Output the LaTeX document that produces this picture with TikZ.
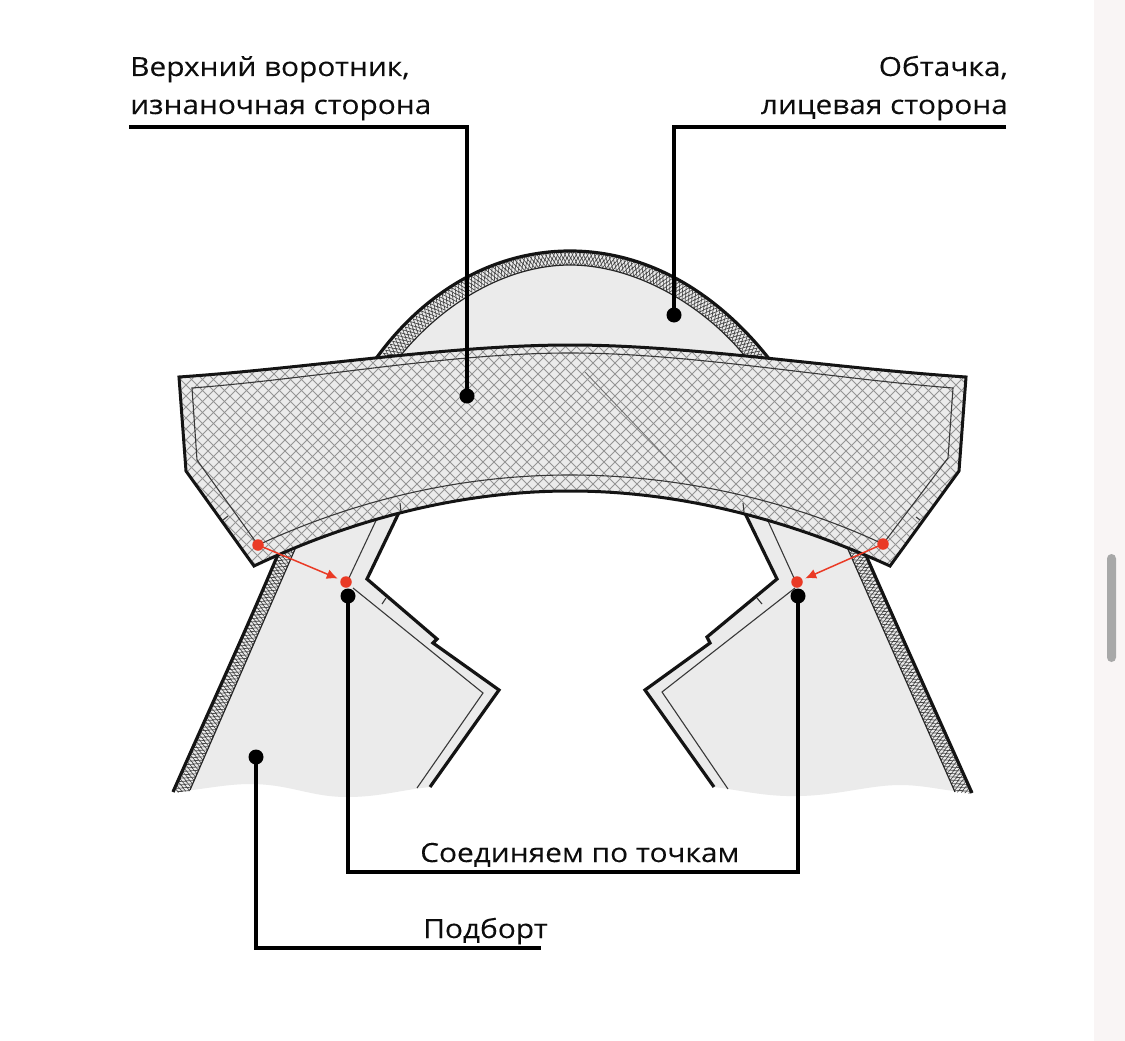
\documentclass[tikz,border=0pt]{standalone}
\usepackage{fontspec}
\setmainfont[FakeStretch=1.13,FakeBold=0.15]{Open Sans}
\usetikzlibrary{decorations.pathmorphing,arrows.meta}
\definecolor{cloth}{HTML}{EBEBEB}
\definecolor{redpt}{HTML}{EA3A25}
\definecolor{barbg}{HTML}{F9F5F5}
\definecolor{thumb}{HTML}{A8A8A8}
\tikzset{
  edgeline/.style={line width=3.2pt,black!92,line join=miter},
  seamline/.style={line width=1.1pt,black!78,line join=miter},
  hatchline/.style={line width=0.95pt,black!42},
  zzbase/.style={decorate,line width=0.65pt,black!72},
  zza/.style={zzbase,decoration={zigzag,segment length=7.4,amplitude=3.8,raise=3.4}},
  zzb/.style={zzbase,decoration={zigzag,segment length=7.4,amplitude=3.8,raise=-3.4}},
  zzc/.style={zzbase,decoration={zigzag,segment length=7.4,amplitude=3.8,raise=3.4,pre=lineto,pre length=3.7}},
  zzd/.style={zzbase,decoration={zigzag,segment length=7.4,amplitude=3.8,raise=-3.4,pre=lineto,pre length=3.7}},
  leader/.style={line width=3.1pt,black,line cap=butt,line join=miter},
  blackdot/.style={circle,fill=black,inner sep=0pt,minimum size=15pt},
  reddot/.style={circle,fill=redpt,inner sep=0pt,minimum size=11.5pt},
  redarrow/.style={line width=1.5pt,redpt,-{Latex[length=11pt,width=10pt]},shorten >=3pt},
  caption/.style={inner sep=0pt,font=\fontsize{26.4}{30}\selectfont,text=black!95}
}
\newcommand{\overlockband}[1]{%
  \draw[zza] #1; \draw[zzb] #1; \draw[zzc] #1; \draw[zzd] #1;}
\begin{document}
\begin{tikzpicture}[x=1pt,y=-1pt]
\useasboundingbox (0,0) rectangle (1125,1041);
\fill[white] (0,0) rectangle (1125,1041);
\fill[barbg] (1094,0) rectangle (1125,1041);
\fill[thumb,rounded corners=4.5pt] (1107,554) rectangle (1116,662);

% --- back neck facing
\fill[cloth] (375,360) .. controls (425,290) and (495,251) .. (570,251)
  .. controls (645,251) and (715,290) .. (770,360) -- cycle;
\begin{scope}
  \clip (375,360) .. controls (425,290) and (495,251) .. (570,251)
    .. controls (645,251) and (715,290) .. (770,360)
    -- (748,360) .. controls (705,305) and (635,265) .. (570,265)
    .. controls (505,265) and (440,305) .. (397,360) -- cycle;
  \overlockband{(386,362) .. controls (432,297) and (500,258) .. (570,258) .. controls (640,258) and (710,297) .. (759,362)}
\end{scope}
\draw[line width=1.2pt,black!85] (397,360) .. controls (440,305) and (505,265) .. (570,265)
  .. controls (635,265) and (705,305) .. (748,360);
\draw[edgeline] (375,360) .. controls (425,290) and (495,251) .. (570,251)
  .. controls (645,251) and (715,290) .. (770,360);

% --- left front facing
\fill[cloth] (284,540) -- (173,792) .. controls (200,790) and (225,784) .. (250,784)
  .. controls (290,784) and (310,797) .. (347,797) .. controls (380,797) and (400,790) .. (430,787)
  -- (499,690) -- (433,643) -- (437,639) -- (367,579) -- (405,500) -- cycle;
\begin{scope}
  \clip (284,540) -- (173,793) -- (190,791) -- (299,540) -- cycle;
  \overlockband{(291,538) .. controls (256,622) and (218,708) .. (180,795)}
\end{scope}
\draw[line width=1.2pt,black!85] (299,540) -- (190,790);
\draw[edgeline] (284,540) .. controls (250,622) and (210,708) .. (173,792);
\draw[edgeline] (405,500) -- (367,579) -- (437,639) -- (433,643) -- (499,690) -- (430,787);
\draw[seamline] (380,512) -- (348,580);
\draw[seamline] (353,588) -- (483,693) -- (417,788);
\draw[seamline] (386,598) -- (382,604);

% --- right front facing
\fill[cloth] (858,537) -- (972,793) .. controls (945,791) and (925,785) .. (900,785)
  .. controls (870,785) and (840,795) .. (800,796) .. controls (765,797) and (740,790) .. (714,787)
  -- (645,690) -- (710,643) -- (707,637) -- (777,579) -- (740,503) -- cycle;
\begin{scope}
  \clip (858,537) -- (973,794) -- (955,792) -- (843,538) -- cycle;
  \overlockband{(850,535) .. controls (888,622) and (926,708) .. (965,796)}
\end{scope}
\draw[line width=1.2pt,black!85] (843,538) -- (955,792);
\draw[edgeline] (858,537) .. controls (895,622) and (934,708) .. (972,793);
\draw[edgeline] (740,503) -- (777,579) -- (707,637) -- (710,643) -- (645,690) -- (714,787);
\draw[seamline] (763,510) -- (794,578);
\draw[seamline] (795,588) -- (662,692) -- (728,789);
\draw[seamline] (757,598) -- (762,604);

% --- upper collar
\fill[cloth] (179,377) .. controls (310,368) and (450,345) .. (570,345)
  .. controls (690,345) and (830,368) .. (966,377)
  -- (959,471) -- (890,566)
  .. controls (800,525) and (690,491) .. (570,491)
  .. controls (450,491) and (340,525) .. (254,566)
  -- (186,471) -- cycle;
\begin{scope}
  \clip (179,377) .. controls (310,368) and (450,345) .. (570,345)
  .. controls (690,345) and (830,368) .. (966,377)
  -- (959,471) -- (890,566)
  .. controls (800,525) and (690,491) .. (570,491)
  .. controls (450,491) and (340,525) .. (254,566)
  -- (186,471) -- cycle;
  \foreach \c in {-100,-89,...,1300}{
    \draw[hatchline] (\c,330) -- ++(-250,250);
    \draw[hatchline] (\c,330) -- ++(250,250);
  }
\end{scope}
\draw[line width=0.9pt,black!55] (585,372) -- (697,490);
\draw[seamline] (192,388) .. controls (320,378) and (450,353) .. (570,353)
  .. controls (690,353) and (825,378) .. (953,388)
  -- (948,458) -- (883,544)
  .. controls (800,505) and (690,475) .. (570,475)
  .. controls (450,475) and (345,505) .. (258,545)
  -- (197,460) -- cycle;
\draw[seamline] (400,503) -- (401,512);
\draw[seamline] (223,520) -- (228,516);
\draw[seamline] (743,503) -- (744,512);
\draw[seamline] (916,517) -- (920,520);
\draw[edgeline,line width=3pt] (179,377) .. controls (310,368) and (450,345) .. (570,345)
  .. controls (690,345) and (830,368) .. (966,377)
  -- (959,471) -- (890,566)
  .. controls (800,525) and (690,491) .. (570,491)
  .. controls (450,491) and (340,525) .. (254,566)
  -- (186,471) -- cycle;

% --- points
\node[reddot] (rl) at (258,545) {};
\node[reddot] (rla) at (346,582) {};
\node[reddot] (rr) at (883,544) {};
\node[reddot] (rra) at (797,582) {};
\draw[redarrow] (rl.center) -- (rla);
\draw[redarrow] (rr.center) -- (rra);

\node[blackdot] (dcollar) at (467,396) {};
\node[blackdot] (dfacing) at (674,315) {};
\node[blackdot] (djl) at (348,596) {};
\node[blackdot] (djr) at (798,596) {};
\node[blackdot] (dpod) at (256,757) {};

% --- captions
\node[caption,anchor=base west] (t1a) at (130,76) {Верхний воротник,};
\node[caption,anchor=base west] (t1b) at (130,114) {изнаночная сторона};
\node[caption,anchor=base east] (t2a) at (1008,76) {Обтачка,};
\node[caption,anchor=base east] (t2b) at (1008,114) {лицевая сторона};
\node[caption,anchor=base west] (t3) at (420,862) {Соединяем по точкам};
\node[caption,anchor=base west] (t4) at (423,938) {Подборт};

% --- leaders
\coordinate (l1s) at (129,127);
\coordinate (l2s) at (1006,127);
\coordinate (l4e) at (541,948);
\draw[leader] (l1s) -| (dcollar.center);
\draw[leader] (l2s) -| (dfacing.center);
\draw[leader] (djl.center) |- (798,872) -- (djr.center);
\draw[leader] (dpod.center) |- (l4e);
\end{tikzpicture}
\end{document}
